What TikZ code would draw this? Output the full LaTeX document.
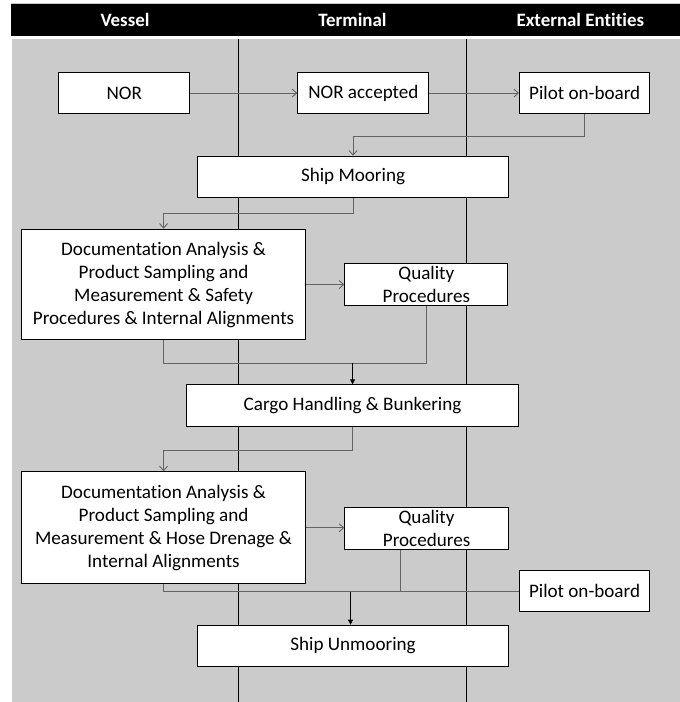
\documentclass[tikz,border=0pt]{standalone}
\usepackage{fontspec}
\setmainfont{Carlito}[Ligatures=NoCommon]
\usetikzlibrary{arrows.meta}
\definecolor{lanebg}{RGB}{203,203,203}
\definecolor{linkgray}{RGB}{100,100,100}
\begin{document}
\begin{tikzpicture}[x=1pt,y=-1pt,
  procbox/.style={draw=black, line width=1.1pt, fill=white, inner sep=0pt,
    align=center, anchor=north west, font=\fontsize{19.1}{23}\selectfont},
  headtext/.style={text=white, font=\fontsize{18.9}{23}\selectfont\bfseries},
  lanerule/.style={draw=black, line width=1.2pt},
  link/.style={draw=linkgray, line width=0.9pt, -{Straight Barb[length=4.5pt,width=8pt]}},
  joinline/.style={draw=linkgray, line width=0.9pt},
  mainlink/.style={draw=black, line width=0.9pt, -{Triangle[length=5pt,width=5pt]}}
]
\useasboundingbox (0,0) rectangle (680,702);
\fill[white] (0,0) rectangle (680,702);

% lane header and body
\draw[gray!45, line width=0.8pt] (11,3.2) -- (680,3.2);
\fill[black] (11,4.3) rectangle (680,35.7);
\fill[lanebg] (11.5,38.5) rectangle (680,702);
\node[headtext] (hvessel) at (125,20) {Vessel};
\node[headtext] (hterm) at (352.5,20) {Terminal};
\node[headtext] (hext) at (580.3,20) {External Entities};

% lane separators
\draw[lanerule] (238.7,38.5) -- (238.7,702);
\draw[lanerule] (466.7,38.5) -- (466.7,702);

% process steps
\node[procbox, minimum width=130.7pt, minimum height=41.6pt] (nor) at (58.3,71.7) {NOR};
\node[procbox, minimum width=131pt, minimum height=41.6pt] (nacc) at (297.3,71.7) {NOR accepted};
\node[procbox, minimum width=130.3pt, minimum height=41.6pt] (pilotA) at (519,71.7) {Pilot on-board};
\node[procbox, minimum width=310.4pt, minimum height=41pt] (moor) at (197.3,155.7) {Ship Mooring};
\node[procbox, minimum width=284pt, minimum height=110.6pt] (docA) at (21,228.7)
  {Documentation Analysis \&\\Product Sampling and\\Measurement \& Safety\\Procedures \& Internal Alignments};
\node[procbox, minimum width=163pt, minimum height=41.7pt] (qualA) at (344.3,263.3) {Quality\\Procedures};
\node[procbox, minimum width=332pt, minimum height=41.7pt] (cargo) at (186,384.3) {Cargo Handling \& Bunkering};
\node[procbox, minimum width=284pt, minimum height=111.7pt] (docB) at (21,471.3)
  {Documentation Analysis \&\\Product Sampling and\\Measurement \& Hose Drenage \&\\Internal Alignments};
\node[procbox, minimum width=163.4pt, minimum height=41.7pt] (qualB) at (344.3,507) {Quality\\Procedures};
\node[procbox, minimum width=130.6pt, minimum height=41.6pt] (pilotB) at (518.7,569.7) {Pilot on-board};
\node[procbox, minimum width=310.4pt, minimum height=41.3pt] (unmoor) at (197.3,624.7) {Ship Unmooring};

% flow
\draw[link] (nor.east) -- (nacc.west);
\draw[link] (nacc.east) -- (pilotA.west);
\draw[link] (pilotA.south) -- ++(0,21.7) -| (moor.north);
\draw[link] (moor.south) -- ++(0,16) -| (docA.north);
\draw[link] (docA.east) -- (docA.east -| qualA.west);

\path (docA.south) ++(0,22.7) coordinate (joinA);
\draw[joinline] (docA.south) -- (joinA) -| (qualA.south);
\draw[mainlink] (joinA -| cargo.north) -- (cargo.north);

\draw[link] (cargo.south) -- ++(0,23.3) -| (docB.north);
\draw[link] (docB.east) -- (docB.east -| qualB.west);

\path (docB.south) ++(0,7.5) coordinate (joinB);
\coordinate (qualBout) at ([xshift=-26.5pt]qualB.south);
\draw[joinline] (docB.south) -- (joinB) -- (joinB -| pilotB.west);
\draw[joinline] (qualBout) -- (qualBout |- joinB);
\draw[mainlink] ([xshift=-2.5pt]joinB -| unmoor.north) -- ([xshift=-2.5pt]unmoor.north);
\end{tikzpicture}
\end{document}
